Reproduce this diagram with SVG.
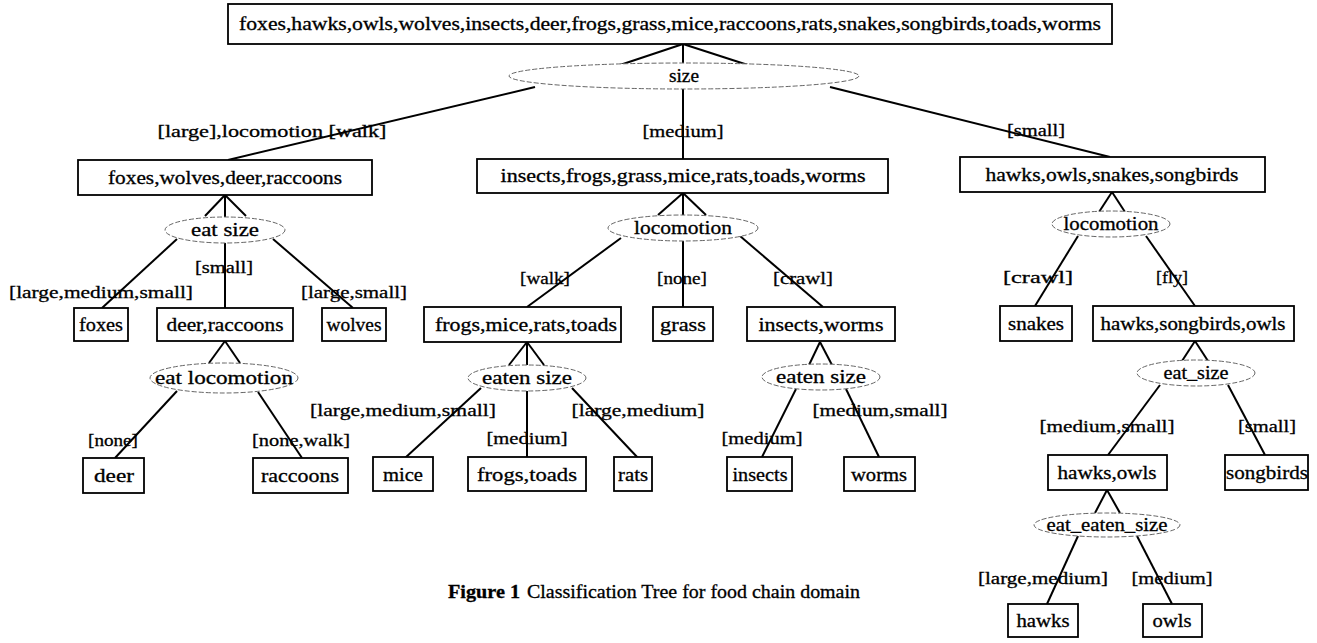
<svg xmlns="http://www.w3.org/2000/svg" width="1317" height="643" viewBox="0 0 1317 643">
<style>
rect.b{fill:#fff;stroke:#000;stroke-width:1.8}
ellipse.d{fill:#fff;stroke:#666;stroke-width:1;stroke-dasharray:5 2}
text{font-family:"Liberation Serif","Times New Roman",serif;fill:#000;text-anchor:middle;stroke:#000;stroke-width:0.3}
text.n{font-size:18px}
text.l{font-size:17px}
#connectors line{stroke:#000;stroke-width:2}
</style>
<rect width="1317" height="643" fill="#fff"/>
<g id="connectors">
<line x1="683" y1="44" x2="617" y2="66"/><line x1="683" y1="44" x2="751" y2="66"/><line x1="683" y1="44" x2="683" y2="63"/>
<line x1="535" y1="87" x2="228" y2="160"/><line x1="683" y1="89" x2="683" y2="159"/><line x1="830" y1="87" x2="1110" y2="157"/>
<line x1="225" y1="195" x2="205" y2="216"/><line x1="225" y1="195" x2="246" y2="216"/><line x1="225" y1="195" x2="225" y2="217"/>
<line x1="177" y1="239" x2="102" y2="308"/><line x1="225" y1="243" x2="225" y2="308"/><line x1="273" y1="239" x2="353" y2="308"/>
<line x1="225" y1="341" x2="209" y2="363"/><line x1="225" y1="341" x2="240" y2="363"/>
<line x1="177" y1="391" x2="115" y2="458"/><line x1="258" y1="392" x2="302" y2="458"/>
<line x1="683" y1="193" x2="658" y2="215"/><line x1="683" y1="193" x2="706" y2="215"/><line x1="683" y1="193" x2="683" y2="215"/>
<line x1="621" y1="238" x2="527" y2="307"/><line x1="683" y1="241" x2="683" y2="307"/><line x1="740" y1="236" x2="823" y2="307"/>
<line x1="527" y1="342" x2="509" y2="365"/><line x1="527" y1="342" x2="544" y2="365"/><line x1="527" y1="342" x2="527" y2="365"/>
<line x1="481" y1="388" x2="405" y2="458"/><line x1="527" y1="391" x2="527" y2="458"/><line x1="572" y1="388" x2="638" y2="458"/>
<line x1="820" y1="342" x2="809" y2="365"/><line x1="820" y1="342" x2="832" y2="365"/>
<line x1="796" y1="389" x2="762" y2="457"/><line x1="846" y1="389" x2="879" y2="457"/>
<line x1="1112" y1="192" x2="1099" y2="212"/><line x1="1112" y1="192" x2="1125" y2="212"/>
<line x1="1078" y1="236" x2="1035" y2="306"/><line x1="1146" y1="236" x2="1195" y2="306"/>
<line x1="1195" y1="341" x2="1182" y2="361"/><line x1="1195" y1="341" x2="1208" y2="361"/>
<line x1="1160" y1="385" x2="1108" y2="455"/><line x1="1228" y1="385" x2="1265" y2="455"/>
<line x1="1107" y1="490" x2="1095" y2="513"/><line x1="1107" y1="490" x2="1120" y2="513"/>
<line x1="1078" y1="536" x2="1047" y2="604"/><line x1="1137" y1="536" x2="1172" y2="604"/>
</g>
<g id="root"><rect class="b" x="228" y="4" width="884" height="40"/><text class="n" x="670" y="30" textLength="862" lengthAdjust="spacingAndGlyphs">foxes,hawks,owls,wolves,insects,deer,frogs,grass,mice,raccoons,rats,snakes,songbirds,toads,worms</text></g>
<g id="e_size"><ellipse class="d" cx="684" cy="76" rx="175" ry="13"/><text class="n" x="684" y="82" textLength="30" lengthAdjust="spacingAndGlyphs">size</text></g>
<g id="n_fwdr"><rect class="b" x="78" y="160" width="294" height="35"/><text class="n" x="225" y="184" textLength="234" lengthAdjust="spacingAndGlyphs">foxes,wolves,deer,raccoons</text></g>
<g id="n_ifgmrtw"><rect class="b" x="477" y="159" width="411" height="34"/><text class="n" x="683" y="182" textLength="365" lengthAdjust="spacingAndGlyphs">insects,frogs,grass,mice,rats,toads,worms</text></g>
<g id="n_hoss"><rect class="b" x="960" y="157" width="305" height="35"/><text class="n" x="1112" y="181" textLength="253" lengthAdjust="spacingAndGlyphs">hawks,owls,snakes,songbirds</text></g>
<g id="e_eatsize"><ellipse class="d" cx="225" cy="230" rx="60" ry="13"/><text class="n" x="225" y="236" textLength="68" lengthAdjust="spacingAndGlyphs">eat size</text></g>
<g id="e_loc_mid"><ellipse class="d" cx="683" cy="228" rx="75" ry="13"/><text class="n" x="683" y="234" textLength="98" lengthAdjust="spacingAndGlyphs">locomotion</text></g>
<g id="e_loc_right"><ellipse class="d" cx="1111" cy="224" rx="59" ry="13"/><text class="n" x="1111" y="230" textLength="95" lengthAdjust="spacingAndGlyphs">locomotion</text></g>
<g id="n_foxes"><rect class="b" x="74" y="308" width="54" height="33"/><text class="n" x="101" y="331" textLength="44" lengthAdjust="spacingAndGlyphs">foxes</text></g>
<g id="n_deer_raccoons"><rect class="b" x="157" y="308" width="136" height="33"/><text class="n" x="225" y="331" textLength="117" lengthAdjust="spacingAndGlyphs">deer,raccoons</text></g>
<g id="n_wolves"><rect class="b" x="322" y="308" width="64" height="33"/><text class="n" x="354" y="331" textLength="55" lengthAdjust="spacingAndGlyphs">wolves</text></g>
<g id="n_fmrt"><rect class="b" x="424" y="307" width="197" height="35"/><text class="n" x="526" y="331" textLength="182" lengthAdjust="spacingAndGlyphs">frogs,mice,rats,toads</text></g>
<g id="n_grass"><rect class="b" x="653" y="307" width="60" height="34"/><text class="n" x="683" y="331" textLength="46" lengthAdjust="spacingAndGlyphs">grass</text></g>
<g id="n_insects_worms"><rect class="b" x="747" y="307" width="148" height="34"/><text class="n" x="821" y="331" textLength="125" lengthAdjust="spacingAndGlyphs">insects,worms</text></g>
<g id="n_snakes"><rect class="b" x="1000" y="306" width="72" height="35"/><text class="n" x="1036" y="330" textLength="56" lengthAdjust="spacingAndGlyphs">snakes</text></g>
<g id="n_hso"><rect class="b" x="1093" y="306" width="201" height="35"/><text class="n" x="1193" y="330" textLength="185" lengthAdjust="spacingAndGlyphs">hawks,songbirds,owls</text></g>
<g id="e_eatloc"><ellipse class="d" cx="224" cy="378" rx="74" ry="15"/><text class="n" x="224" y="384" textLength="138" lengthAdjust="spacingAndGlyphs">eat locomotion</text></g>
<g id="e_eaten_mid"><ellipse class="d" cx="527" cy="378" rx="59" ry="13"/><text class="n" x="527" y="384" textLength="90" lengthAdjust="spacingAndGlyphs">eaten size</text></g>
<g id="e_eaten_right"><ellipse class="d" cx="821" cy="377" rx="59" ry="13"/><text class="n" x="821" y="383" textLength="90" lengthAdjust="spacingAndGlyphs">eaten size</text></g>
<g id="e_eat_size_r"><ellipse class="d" cx="1196" cy="373" rx="59" ry="13"/><text class="n" x="1196" y="379" textLength="65" lengthAdjust="spacingAndGlyphs">eat_size</text></g>
<g id="n_deer"><rect class="b" x="83" y="458" width="61" height="35"/><text class="n" x="114" y="482" textLength="40" lengthAdjust="spacingAndGlyphs">deer</text></g>
<g id="n_raccoons"><rect class="b" x="253" y="458" width="95" height="35"/><text class="n" x="300" y="482" textLength="78" lengthAdjust="spacingAndGlyphs">raccoons</text></g>
<g id="n_mice"><rect class="b" x="373" y="457" width="60" height="34"/><text class="n" x="403" y="481" textLength="40" lengthAdjust="spacingAndGlyphs">mice</text></g>
<g id="n_frogs_toads"><rect class="b" x="468" y="457" width="118" height="34"/><text class="n" x="527" y="481" textLength="100" lengthAdjust="spacingAndGlyphs">frogs,toads</text></g>
<g id="n_rats"><rect class="b" x="614" y="457" width="38" height="34"/><text class="n" x="633" y="481" textLength="30" lengthAdjust="spacingAndGlyphs">rats</text></g>
<g id="n_insects"><rect class="b" x="727" y="457" width="65" height="34"/><text class="n" x="760" y="481" textLength="55" lengthAdjust="spacingAndGlyphs">insects</text></g>
<g id="n_worms"><rect class="b" x="844" y="457" width="71" height="34"/><text class="n" x="879" y="481" textLength="56" lengthAdjust="spacingAndGlyphs">worms</text></g>
<g id="n_hawks_owls"><rect class="b" x="1048" y="455" width="119" height="35"/><text class="n" x="1107" y="479" textLength="99" lengthAdjust="spacingAndGlyphs">hawks,owls</text></g>
<g id="n_songbirds"><rect class="b" x="1225" y="455" width="83" height="35"/><text class="n" x="1267" y="479" textLength="82" lengthAdjust="spacingAndGlyphs">songbirds</text></g>
<g id="e_eat_eaten"><ellipse class="d" cx="1107" cy="525" rx="73" ry="12"/><text class="n" x="1107" y="531" textLength="121" lengthAdjust="spacingAndGlyphs">eat_eaten_size</text></g>
<g id="n_hawks"><rect class="b" x="1008" y="604" width="70" height="33"/><text class="n" x="1043" y="627" textLength="53" lengthAdjust="spacingAndGlyphs">hawks</text></g>
<g id="n_owls"><rect class="b" x="1143" y="604" width="59" height="33"/><text class="n" x="1172" y="627" textLength="39" lengthAdjust="spacingAndGlyphs">owls</text></g>
<g id="labels">
<text class="l" x="272" y="137" textLength="229" lengthAdjust="spacingAndGlyphs">[large],locomotion [walk]</text>
<text class="l" x="683" y="137" textLength="81" lengthAdjust="spacingAndGlyphs">[medium]</text>
<text class="l" x="1036" y="136" textLength="58" lengthAdjust="spacingAndGlyphs">[small]</text>
<text class="l" x="101" y="298" textLength="184" lengthAdjust="spacingAndGlyphs">[large,medium,small]</text>
<text class="l" x="224" y="273" textLength="58" lengthAdjust="spacingAndGlyphs">[small]</text>
<text class="l" x="354" y="298" textLength="106" lengthAdjust="spacingAndGlyphs">[large,small]</text>
<text class="l" x="113" y="446" textLength="50" lengthAdjust="spacingAndGlyphs">[none]</text>
<text class="l" x="301" y="446" textLength="98" lengthAdjust="spacingAndGlyphs">[none,walk]</text>
<text class="l" x="545" y="284" textLength="50" lengthAdjust="spacingAndGlyphs">[walk]</text>
<text class="l" x="682" y="284" textLength="50" lengthAdjust="spacingAndGlyphs">[none]</text>
<text class="l" x="803" y="284" textLength="60" lengthAdjust="spacingAndGlyphs">[crawl]</text>
<text class="l" x="403" y="416" textLength="186" lengthAdjust="spacingAndGlyphs">[large,medium,small]</text>
<text class="l" x="527" y="444" textLength="81" lengthAdjust="spacingAndGlyphs">[medium]</text>
<text class="l" x="638" y="416" textLength="133" lengthAdjust="spacingAndGlyphs">[large,medium]</text>
<text class="l" x="762" y="444" textLength="81" lengthAdjust="spacingAndGlyphs">[medium]</text>
<text class="l" x="880" y="416" textLength="135" lengthAdjust="spacingAndGlyphs">[medium,small]</text>
<text class="l" x="1038" y="283" textLength="70" lengthAdjust="spacingAndGlyphs">[crawl]</text>
<text class="l" x="1172" y="283" textLength="32" lengthAdjust="spacingAndGlyphs">[fly]</text>
<text class="l" x="1107" y="432" textLength="135" lengthAdjust="spacingAndGlyphs">[medium,small]</text>
<text class="l" x="1267" y="432" textLength="58" lengthAdjust="spacingAndGlyphs">[small]</text>
<text class="l" x="1043" y="584" textLength="130" lengthAdjust="spacingAndGlyphs">[large,medium]</text>
<text class="l" x="1172" y="584" textLength="81" lengthAdjust="spacingAndGlyphs">[medium]</text>
</g>
<g id="caption"><text x="448" y="598" style="text-anchor:start;font-size:18px;font-weight:bold" textLength="72" lengthAdjust="spacingAndGlyphs">Figure 1</text><text x="527" y="598" style="text-anchor:start;font-size:18px" textLength="333" lengthAdjust="spacingAndGlyphs">Classification Tree for food chain domain</text></g>
</svg>
